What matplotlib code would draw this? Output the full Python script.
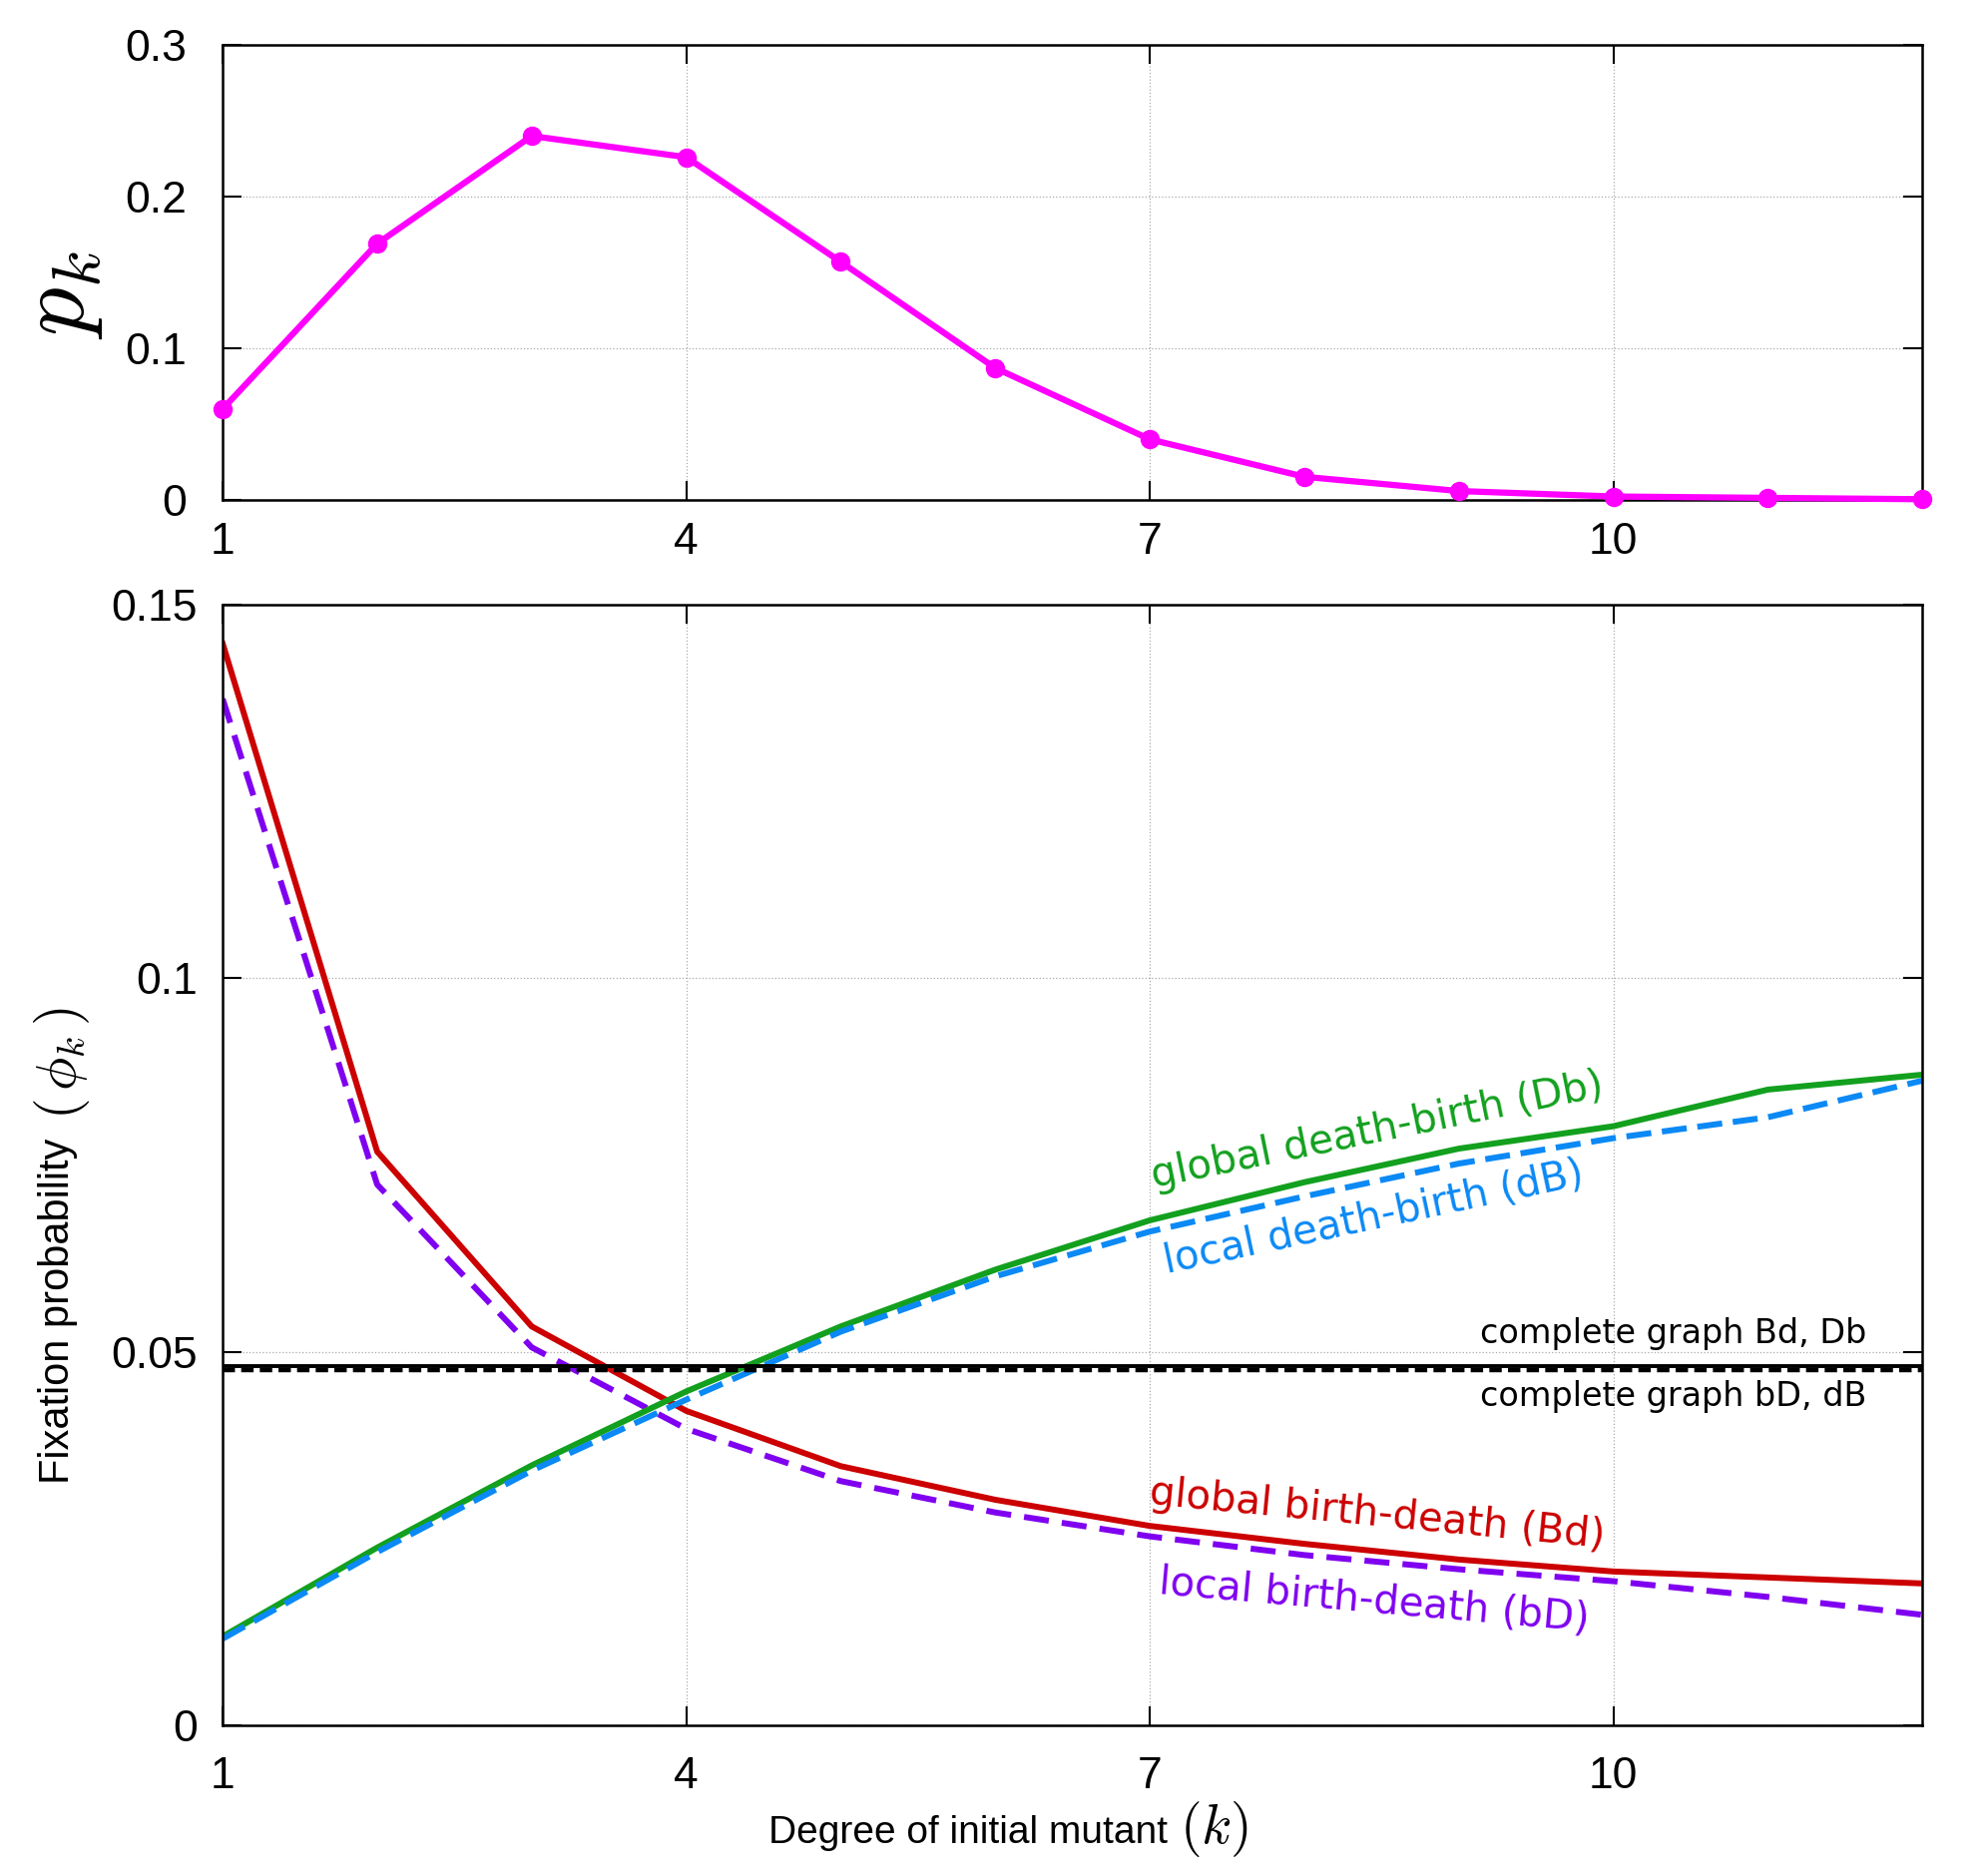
import numpy as np
import matplotlib
matplotlib.use('Agg')
import matplotlib.pyplot as plt

plt.rcParams['font.family'] = ['Liberation Sans', 'DejaVu Sans']
plt.rcParams['mathtext.fontset'] = 'cm'

# degree distribution of the graph
k = np.arange(1, 13)
p_k = [0.060, 0.169, 0.240, 0.226, 0.157, 0.087, 0.040, 0.0153, 0.0059, 0.0023, 0.0014, 0.0005]

# fixation probabilities for the four update rules
phi_Bd = [0.1448, 0.0768, 0.0534, 0.0421, 0.0347, 0.0302, 0.0267, 0.0243, 0.0222, 0.0206, 0.0198, 0.0190]
phi_bD = [0.1374, 0.0724, 0.0506, 0.0397, 0.0327, 0.0285, 0.0253, 0.0228, 0.0209, 0.0193, 0.0172, 0.0148]
phi_Db = [0.0119, 0.0238, 0.0348, 0.0447, 0.0534, 0.0610, 0.0676, 0.0727, 0.0772, 0.0802, 0.0851, 0.0871]
phi_dB = [0.0116, 0.0232, 0.0341, 0.0436, 0.0527, 0.0601, 0.0661, 0.0708, 0.0752, 0.0786, 0.0814, 0.0863]

# complete graph reference values
complete_Bd_Db = 0.0481
complete_bD_dB = 0.0476

xticks = [1, 4, 7, 10]

fig = plt.figure(figsize=(19.92, 18.78), dpi=100)
ax1 = fig.add_axes([0.112, 0.7332, 0.855, 0.2428])
ax2 = fig.add_axes([0.112, 0.0793, 0.855, 0.598])


def style(ax, xpad, ypad):
    ax.set_xlim(1, 12)
    ax.set_xticks(xticks)
    ax.tick_params(direction='in', length=14, width=1.5, top=True, right=True,
                   labelsize=32)
    ax.tick_params(axis='x', pad=xpad)
    ax.tick_params(axis='y', pad=ypad)
    ax.grid(True, linestyle=':', color='#aaaaaa', linewidth=0.9)
    for s in ax.spines.values():
        s.set_linewidth(1.8)


# top panel
ax1.plot(k, p_k, color='#ff00ff', lw=4.5, marker='o', ms=13, clip_on=False, zorder=3)
ax1.set_ylim(0, 0.3)
ax1.set_yticks([0, 0.1, 0.2, 0.3])
ax1.set_yticklabels(['0', '0.1', '0.2', '0.3'])
style(ax1, 16, 26)
fig.text(60 / 1992, 1 - 296 / 1878, r'$p_k$', fontsize=70, rotation=90,
         ha='center', va='center')

# bottom panel
ax2.plot(k, phi_Bd, color='#cc0000', lw=4.3)
ax2.plot(k, phi_bD, color='#7f00f0', lw=4.3, dashes=(4.2, 2.2))
ax2.plot(k, phi_Db, color='#12a01e', lw=4.3)
ax2.plot(k, phi_dB, color='#0b89f5', lw=4.3, dashes=(4.2, 1.8))
ax2.axhline(complete_Bd_Db, color='black', lw=2.8)
ax2.axhline(complete_bD_dB, color='black', lw=3.2, dashes=(2.8, 1.4))
ax2.set_ylim(0, 0.15)
ax2.set_yticks([0, 0.05, 0.1, 0.15])
ax2.set_yticklabels(['0', '0.05', '0.1', '0.15'])
style(ax2, 22, 18)

ax2.text(8.47, 0.0795, 'global death-birth (Db)', color='#12a01e', fontsize=29,
         family='DejaVu Sans', rotation=11.5, rotation_mode='anchor',
         ha='center', va='center')
ax2.text(8.45, 0.0679, 'local death-birth (dB)', color='#0b89f5', fontsize=29,
         family='DejaVu Sans', rotation=12, rotation_mode='anchor',
         ha='center', va='center')
ax2.text(8.47, 0.0282, 'global birth-death (Bd)', color='#cc0000', fontsize=29,
         family='DejaVu Sans', rotation=-5.5, rotation_mode='anchor',
         ha='center', va='center')
ax2.text(8.45, 0.0166, 'local birth-death (bD)', color='#7f00f0', fontsize=29,
         family='DejaVu Sans', rotation=-5, rotation_mode='anchor',
         ha='center', va='center')
ax2.text(11.64, 0.0524, 'complete graph Bd, Db', fontsize=24, family='DejaVu Sans',
         ha='right', va='center')
ax2.text(11.64, 0.0440, 'complete graph bD, dB', fontsize=24, family='DejaVu Sans',
         ha='right', va='center')

# axis labels (text part and larger math part)
fig.text(58 / 1992, 1 - 1487 / 1878, 'Fixation probability', fontsize=30,
         rotation=90, rotation_mode='anchor', ha='left', va='center')
fig.text(62 / 1992, 1 - 1122 / 1878, r'$(\,\phi_k\,)$', fontsize=40,
         rotation=90, rotation_mode='anchor', ha='left', va='center')
fig.text(1170 / 1992, 1 - 1847 / 1878, 'Degree of initial mutant', fontsize=28,
         ha='right', va='baseline')
fig.text(1182 / 1992, 1 - 1847 / 1878, r'$(k)$', fontsize=40,
         ha='left', va='baseline')

fig.savefig('out.png', dpi=100)
